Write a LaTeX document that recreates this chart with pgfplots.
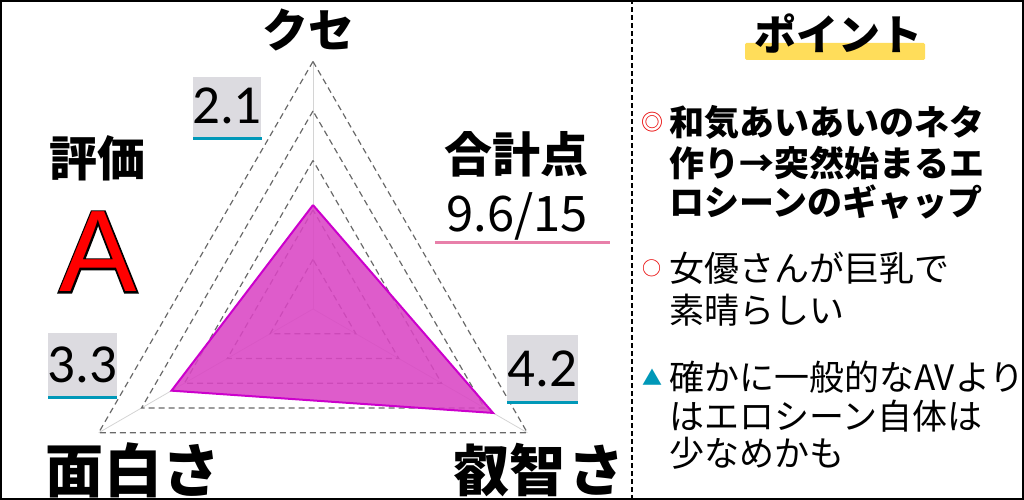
\documentclass[border=0pt]{standalone}
\usepackage{pgfplots}
\pgfplotsset{compat=1.18}
\usepackage{fontspec}
\setmainfont{Noto Sans CJK JP}
\newfontfamily\latin{Liberation Sans}
\newfontfamily\latinthick[FakeBold=3]{Liberation Sans}
\newfontfamily\numfont{Carlito}

\definecolor{gridgray}{RGB}{105,105,105}
\definecolor{spokegray}{RGB}{212,212,212}
\definecolor{areafill}{RGB}{218,70,196}
\definecolor{areaedge}{RGB}{204,0,204}
\definecolor{boxgray}{RGB}{220,219,224}
\definecolor{teal}{RGB}{0,152,184}
\definecolor{pinkline}{RGB}{232,128,170}
\definecolor{marker}{RGB}{255,221,90}
\definecolor{bulletred}{RGB}{232,0,0}

\newcommand{\fs}[1]{\fontsize{#1bp}{#1bp}\selectfont}

\begin{document}
\begin{tikzpicture}[x=1bp,y=1bp]
\useasboundingbox (0,0) rectangle (1024,500);

% ---------- radar chart (centre of the axis = origin of the scores) ----------
\begin{axis}[
  at={(313bp,191bp)}, anchor=center,
  hide axis, clip=false, scale only axis,
  x=49.5bp, y=49.5bp,
  xmin=-5, xmax=5, ymin=-5, ymax=5,
]
  % spokes
  \addplot[spokegray, line width=0.8bp, data cs=polar] coordinates {(90,0) (90,5)};
  \addplot[spokegray, line width=0.8bp, data cs=polar] coordinates {(210,0) (210,5)};
  \addplot[spokegray, line width=0.8bp, data cs=polar] coordinates {(330,0) (330,5)};
  % dashed level triangles 1..5
  \pgfplotsinvokeforeach{1,2,3,4,5}{
    \addplot[gridgray, line width=1.2bp, dash pattern=on 6bp off 4bp, data cs=polar]
      coordinates {(90,#1) (210,#1) (330,#1) (90,#1)};
  }
  % scores: クセ 2.1, 叡智さ 4.2, 面白さ 3.3
  \addplot[draw=areaedge, line width=2bp, fill=areafill, fill opacity=0.88,
           line join=miter, data cs=polar]
    coordinates {(90,2.1) (330,4.2) (210,3.3) (90,2.1)};
\end{axis}

% axis names
\node[font=\bfseries\fs{46}, inner sep=0] at (308,470) {クセ};
\node[font=\bfseries\fs{58}, inner sep=0] at (133,30) {面白さ};
\node[font=\bfseries\fs{56}, inner sep=0] at (539,30) {叡智\hspace{3bp}さ};

% value labels
\fill[boxgray] (193,363) rectangle (261,423);
\draw[teal, line width=3bp] (193,361.5) -- (262,361.5);
\node[font=\numfont\fs{55}, anchor=base, inner sep=0] at (227,376) {2.1};

\fill[boxgray] (48,104) rectangle (117,167);
\draw[teal, line width=3bp] (48,102.5) -- (117,102.5);
\node[font=\numfont\fs{55}, anchor=base, inner sep=0] at (82.5,117) {3.3};

\fill[boxgray] (507,99) rectangle (578,165);
\draw[teal, line width=3bp] (507,97.5) -- (578,97.5);
\node[font=\numfont\fs{55}, anchor=base, inner sep=0] at (542.5,113) {4.2};

% rating
\node[font=\bfseries\fs{48}, inner sep=0] at (97,342) {評価};
\node[font=\latinthick\fs{116}, text=black, anchor=base, inner sep=0] at (98,208) {A};
\node[font=\latin\fs{116}, text=red, anchor=base, inner sep=0] at (98,208) {A};

% total
\node[font=\bfseries\fs{48}, inner sep=0] at (516,346) {合計点};
\node[font=\fs{49}, anchor=base, inner sep=0] at (517,268) {9.6/15};
\draw[pinkline, line width=3bp] (435,257) -- (610,257);

% ---------- right panel ----------
\draw[black, line width=1.6bp, dash pattern=on 5bp off 3bp] (632,0) -- (632,500);

\fill[marker, rounded corners=1.5bp] (745,440) rectangle (925,457);
\node[font=\bfseries\fs{42}, inner sep=0] at (838,466) {ポイント};

\node[text=bulletred, font=\fs{22}, inner sep=0] at (652,378) {◎};
\node[font=\bfseries\fs{35}, anchor=west, inner sep=0] at (669,378) {和気あいあいのネタ};
\node[font=\bfseries\fs{35}, anchor=west, inner sep=0] at (669,337) {作り→突然始まるエ};
\node[font=\bfseries\fs{35}, anchor=west, inner sep=0] at (669,298) {ロシーンのギャップ};

\node[text=bulletred, font=\fs{19}, inner sep=0] at (652,232) {○};
\node[font=\fs{35}, anchor=west, inner sep=0] at (669,232) {女優さんが巨乳で};
\node[font=\fs{35}, anchor=west, inner sep=0] at (669,190) {素晴らしい};

\node[text=teal, font=\fs{20}, inner sep=0] at (652,123) {▲};
\node[font=\fs{35}, anchor=west, inner sep=0] at (669,123) {確かに一般的なAVより};
\node[font=\fs{35}, anchor=west, inner sep=0] at (669,84) {はエロシーン自体は};
\node[font=\fs{35}, anchor=west, inner sep=0] at (669,47) {少なめかも};

% frame
\draw[black, line width=2bp] (1,1) rectangle (1023,499);
\end{tikzpicture}
\end{document}
